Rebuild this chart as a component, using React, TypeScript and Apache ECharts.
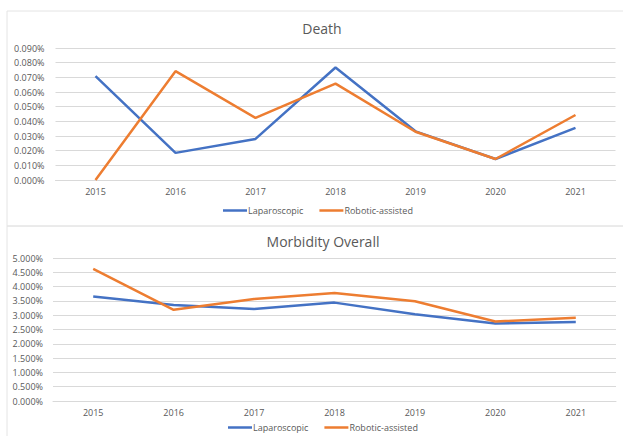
import React, { useEffect, useRef } from "react";
import * as echarts from "echarts";

// Years shown on both panels
const years = ["2015", "2016", "2017", "2018", "2019", "2020", "2021"];

// Death rate (%), by approach
const deathLaparoscopic = [0.0708, 0.0185, 0.028, 0.0767, 0.0332, 0.0143, 0.0355];
const deathRobotic = [0.0, 0.0742, 0.0424, 0.0657, 0.0329, 0.0143, 0.0443];

// Overall morbidity (%), by approach
const morbLaparoscopic = [3.65, 3.36, 3.22, 3.44, 3.03, 2.71, 2.76];
const morbRobotic = [4.62, 3.19, 3.57, 3.78, 3.49, 2.78, 2.91];

const seriesNames = ["Laparoscopic", "Robotic-assisted"];

const BLUE = "#4472C4";
const ORANGE = "#ED7D31";
const TEXT = "#595959";
const GRID = "#D9D9D9";
const FONT = "Open Sans";

export default function App() {
  const ref = useRef<HTMLDivElement>(null);

  useEffect(() => {
    if (!ref.current) return;
    const chart = echarts.init(ref.current, undefined, { renderer: "svg" });

    const pct = (d: number) => (v: number) => v.toFixed(d) + "%";

    const xAxisBase = {
      type: "category" as const,
      data: years,
      boundaryGap: true,
      axisLine: { show: true, lineStyle: { color: GRID, width: 1 } },
      axisTick: { show: false },
      axisLabel: { color: TEXT, fontSize: 9, fontFamily: FONT, margin: 7 },
    };

    const yAxisBase = {
      type: "value" as const,
      axisLine: { show: false },
      axisTick: { show: false },
      splitLine: { show: true, lineStyle: { color: GRID, width: 1 } },
    };

    const lineSeries = (
      name: string,
      data: number[],
      color: string,
      axisIndex: number
    ) => ({
      name,
      type: "line" as const,
      data,
      xAxisIndex: axisIndex,
      yAxisIndex: axisIndex,
      symbol: "none",
      lineStyle: { color, width: 2.5 },
      itemStyle: { color },
      z: color === BLUE ? 3 : 4,
    });

    const legendBase = {
      data: seriesNames,
      icon: "rect",
      itemWidth: 24,
      itemHeight: 2.5,
      itemGap: 16,
      textStyle: { color: TEXT, fontSize: 9, fontFamily: FONT, padding: [0, 0, 0, -4] },
      selectedMode: false,
      padding: 0,
    };

    chart.setOption({
      animation: false,
      backgroundColor: "#ffffff",
      graphic: [
        {
          type: "rect",
          shape: { x: 7, y: 11, width: 640, height: 215 },
          style: { fill: "none", stroke: "#E4E4E4", lineWidth: 1 },
          silent: true,
        },
        {
          type: "rect",
          shape: { x: 7, y: 226, width: 640, height: 230 },
          style: { fill: "none", stroke: "#E4E4E4", lineWidth: 1 },
          silent: true,
        },
      ],
      title: [
        {
          text: "Death",
          left: 317,
          textAlign: "center",
          top: 16,
          textStyle: { color: TEXT, fontSize: 14, fontWeight: "normal", fontFamily: FONT },
        },
        {
          text: "Morbidity Overall",
          left: 318,
          textAlign: "center",
          top: 229,
          textStyle: { color: TEXT, fontSize: 14, fontWeight: "normal", fontFamily: FONT },
        },
      ],
      legend: [
        { ...legendBase, left: 223, top: 206 },
        { ...legendBase, left: 228, top: 423 },
      ],
      grid: [
        { left: 55.5, right: 7.5, top: 48, height: 132, containLabel: false },
        { left: 53, right: 7, top: 258, height: 143, containLabel: false },
      ],
      xAxis: [
        { ...xAxisBase, gridIndex: 0 },
        { ...xAxisBase, gridIndex: 1 },
      ],
      yAxis: [
        {
          ...yAxisBase,
          gridIndex: 0,
          min: 0,
          max: 0.09,
          interval: 0.01,
          axisLabel: { color: TEXT, fontSize: 9, fontFamily: FONT, margin: 11, formatter: pct(3) },
        },
        {
          ...yAxisBase,
          gridIndex: 1,
          min: 0,
          max: 5,
          interval: 0.5,
          axisLabel: { color: TEXT, fontSize: 9, fontFamily: FONT, margin: 10, formatter: pct(3) },
        },
      ],
      series: [
        lineSeries(seriesNames[0], deathLaparoscopic, BLUE, 0),
        lineSeries(seriesNames[1], deathRobotic, ORANGE, 0),
        lineSeries(seriesNames[0], morbLaparoscopic, BLUE, 1),
        lineSeries(seriesNames[1], morbRobotic, ORANGE, 1),
      ],
    });

    return () => chart.dispose();
  }, []);

  return (
    <div
      ref={ref}
      style={{ position: "fixed", left: 0, top: 0, width: 623, height: 436, background: "#fff" }}
    />
  );
}
